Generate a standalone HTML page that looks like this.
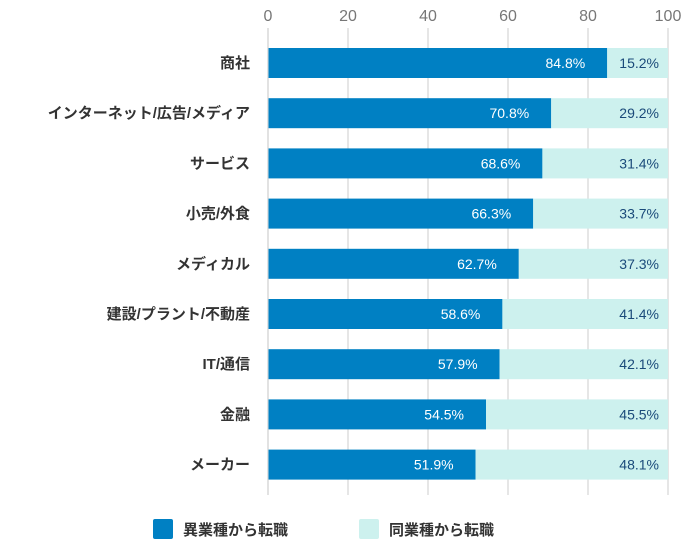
<!DOCTYPE html>
<html><head><meta charset="utf-8"><style>
body{margin:0;background:#fff;font-family:"Liberation Sans","Noto Sans CJK JP",sans-serif;}
svg text{font-family:"Liberation Sans","Noto Sans CJK JP",sans-serif;}
</style></head><body>
<svg id="chart" width="683" height="543" xmlns="http://www.w3.org/2000/svg"></svg>
<script>
const categories=["商社","インターネット/広告/メディア","サービス","小売/外食","メディカル","建設/プラント/不動産","IT/通信","金融","メーカー"];
const differentIndustry=[84.8,70.8,68.6,66.3,62.7,58.6,57.9,54.5,51.9];
const sameIndustry=[15.2,29.2,31.4,33.7,37.3,41.4,42.1,45.5,48.1];
const ticks=[0,20,40,60,80,100];
const NS="http://www.w3.org/2000/svg";
const svg=document.getElementById('chart');
const x=v=>268+v*4;
const yTop=i=>48+i*50.2;
const bh=30;
function mk(t,a,txt){const e=document.createElementNS(NS,t);for(const k in a)e.setAttribute(k,a[k]);if(txt!==undefined)e.textContent=txt;svg.appendChild(e);return e;}
ticks.forEach(t=>{
 const g=mk('line',{x1:x(t),x2:x(t),y1:28,y2:495,stroke:'#e6e6e6','stroke-width':2});
 
 
 const l=mk('text',{x:x(t),y:21,'text-anchor':'middle','font-size':16,fill:'#777'},t);
 
 
});
categories.forEach((c,i)=>{
 const y=yTop(i);
 const cl=mk('text',{x:250,y:y+bh/2+5,'text-anchor':'end','font-size':15,'font-weight':'bold',fill:'#333'},c);
 
 
 const b1=mk('rect',{x:x(0),y:y,width:x(differentIndustry[i])-x(0),height:bh,fill:'#0080c3'});
 
 
 const b2=mk('rect',{x:x(differentIndustry[i]),y:y,width:x(differentIndustry[i]+sameIndustry[i])-x(differentIndustry[i]),height:bh,fill:'#cdf1ee'});
 
 
 const v1=mk('text',{x:x(differentIndustry[i])-22,y:y+bh/2+5,'text-anchor':'end','font-size':14,fill:'#fff'},differentIndustry[i].toFixed(1)+'%');
 
 
 const v2=mk('text',{x:x(100)-9,y:y+bh/2+5,'text-anchor':'end','font-size':14,fill:'#1a4a7a'},sameIndustry[i].toFixed(1)+'%');
 
 
});
const ax=mk('line',{x1:x(0),x2:x(0),y1:28,y2:495,stroke:'#ddd','stroke-width':1});


const legend=[["異業種から転職",'#0080c3',153],["同業種から転職",'#cdf1ee',359]];
legend.forEach(([t,col,lx])=>{
 const r=mk('rect',{x:lx,y:519,width:20,height:20,rx:2,fill:col});
 
 
 const tx=mk('text',{x:lx+30,y:535,'font-size':15,'font-weight':'bold',fill:'#333'},t);
 
 
});
</script>
</body></html>
